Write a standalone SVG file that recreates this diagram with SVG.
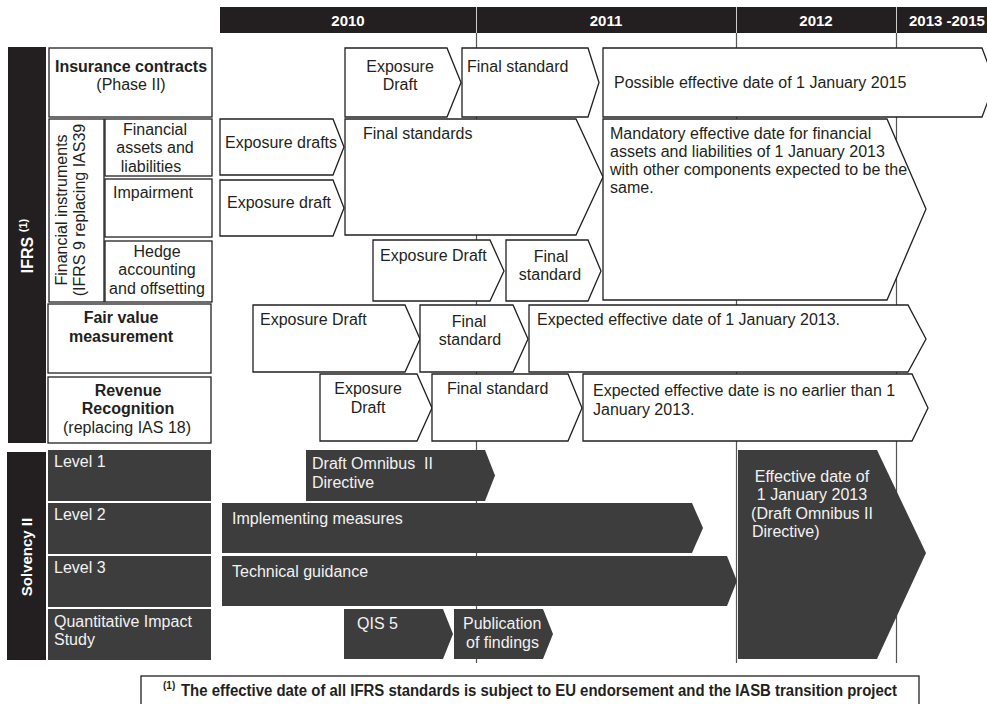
<svg xmlns="http://www.w3.org/2000/svg" width="987" height="704" viewBox="0 0 987 704">
<style>
.w{fill:#fff;stroke:#231f20;stroke-width:1.3}
.d{fill:#3d3d3d}
.k{fill:#231f20}
.g{stroke:#555;stroke-width:1.2;fill:none}
text{font-family:"Liberation Sans",Arial,sans-serif;font-size:16px;fill:#231f20}
.c{text-anchor:middle}
.b{font-weight:bold}
.tw{fill:#f2f2f2}
.hd{font-weight:bold;fill:#fff;font-size:15px}
</style>
<rect width="987" height="704" fill="#fff"/>
<g id="connectors">
<line class="g" x1="476.5" y1="33" x2="476.5" y2="663"/>
<line class="g" x1="736.5" y1="33" x2="736.5" y2="663"/>
<line class="g" x1="896.5" y1="33" x2="896.5" y2="663"/>
</g>
<g id="header">
<rect class="k" x="220" y="7" width="767" height="26"/>
<line x1="476.5" y1="7" x2="476.5" y2="33" stroke="#ccc" stroke-width="1"/>
<line x1="736.5" y1="7" x2="736.5" y2="33" stroke="#ccc" stroke-width="1"/>
<line x1="896.5" y1="7" x2="896.5" y2="33" stroke="#ccc" stroke-width="1"/>
<text class="hd c" x="348" y="26">2010</text>
<text class="hd c" x="606" y="26">2011</text>
<text class="hd c" x="816" y="26">2012</text>
<text class="hd" x="909" y="26">2013 -2015</text>
</g>
<g id="ifrs-label">
<rect class="k" x="8" y="47" width="38" height="396"/>
<text class="hd" transform="translate(33,246) rotate(-90)" text-anchor="middle" style="font-size:16px">IFRS <tspan style="font-size:11px" dy="-6">(1)</tspan></text>
</g>
<g id="solvency-label">
<rect class="k" x="7" y="452" width="39" height="208"/>
<text class="hd c" transform="translate(32,557) rotate(-90)">Solvency II</text>
</g>
<g id="insurance-contracts">
<rect class="w" x="49" y="48" width="163" height="69"/>
<text class="c b" x="131" y="72">Insurance contracts</text>
<text class="c" x="131" y="90">(Phase II)</text>
</g>
<g id="financial-instruments">
<rect class="w" x="49" y="119" width="55" height="183"/>
<text class="c" transform="translate(67,210) rotate(-90)">Financial instruments</text>
<text class="c" transform="translate(85,210) rotate(-90)">(IFRS 9 replacing IAS39</text>
</g>
<g id="financial-assets">
<rect class="w" x="105" y="119" width="107" height="57"/>
<text class="c" x="155" y="135">Financial</text>
<text class="c" x="155" y="153">assets and</text>
<text class="c" x="151" y="172">liabilities</text>
</g>
<g id="impairment">
<rect class="w" x="105" y="179" width="107" height="58"/>
<text x="113" y="198">Impairment</text>
</g>
<g id="hedge">
<rect class="w" x="105" y="241" width="107" height="61"/>
<text class="c" x="157" y="257">Hedge</text>
<text class="c" x="157" y="275">accounting</text>
<text class="c" x="157" y="294">and offsetting</text>
</g>
<g id="fair-value">
<rect class="w" x="48" y="304" width="163" height="69"/>
<text class="c b" x="121" y="323">Fair value</text>
<text class="c b" x="121" y="342">measurement</text>
</g>
<g id="revenue">
<rect class="w" x="48" y="377" width="163" height="66"/>
<text class="c b" x="128" y="396">Revenue</text>
<text class="c b" x="128" y="414">Recognition</text>
<text class="c" x="127" y="433">(replacing IAS 18)</text>
</g>
<g id="level1">
<rect class="d" x="48" y="450" width="163" height="51"/>
<text class="tw" x="54" y="467">Level 1</text>
</g>
<g id="level2">
<rect class="d" x="48" y="503" width="163" height="51"/>
<text class="tw" x="54" y="520">Level 2</text>
</g>
<g id="level3">
<rect class="d" x="48" y="556" width="163" height="51"/>
<text class="tw" x="54" y="573">Level 3</text>
</g>
<g id="qis">
<rect class="d" x="48" y="609" width="163" height="51"/>
<text class="tw" x="54" y="627">Quantitative Impact</text>
<text class="tw" x="54" y="645">Study</text>
</g>
<g id="ins-ed">
<path class="w" d="M345,48H447L461,82.5L447,117H345Z"/>
<text class="c" x="400" y="72">Exposure</text>
<text class="c" x="400" y="90">Draft</text>
</g>
<g id="ins-fs">
<path class="w" d="M462,48H588L599,82.5L588,117H462Z"/>
<text x="467" y="72">Final standard</text>
</g>
<g id="ins-eff">
<path class="w" d="M603,48H982L995,82.5L982,117H603Z"/>
<text x="614" y="88">Possible effective date of 1 January 2015</text>
</g>
<g id="fa-ed">
<path class="w" d="M220,119H333L344,147L333,175H220Z"/>
<text x="225" y="148">Exposure drafts</text>
</g>
<g id="imp-ed">
<path class="w" d="M220,180H333L344,208L333,236H220Z"/>
<text x="227" y="208">Exposure draft</text>
</g>
<g id="fi-fs">
<path class="w" d="M345,119H576L603,177L576,235H345Z"/>
<text x="363" y="139">Final standards</text>
</g>
<g id="fi-eff">
<path class="w" d="M603,119H887L926,209L887,300H603Z"/>
<text x="610" y="139">Mandatory effective date for financial</text>
<text x="610" y="157">assets and liabilities of 1 January 2013</text>
<text x="610" y="175">with other components expected to be the</text>
<text x="610" y="193">same.</text>
</g>
<g id="hedge-ed">
<path class="w" d="M373,240H490L504,271L490,301H373Z"/>
<text x="380" y="261">Exposure Draft</text>
</g>
<g id="hedge-fs">
<path class="w" d="M506,240H588L601,271L588,301H506Z"/>
<text class="c" x="551" y="262">Final</text>
<text class="c" x="550" y="280">standard</text>
</g>
<g id="fv-ed">
<path class="w" d="M253,305H405L420,339L405,372H253Z"/>
<text x="260" y="325">Exposure Draft</text>
</g>
<g id="fv-fs">
<path class="w" d="M420,305H513L528,339L513,372H420Z"/>
<text class="c" x="469" y="327">Final</text>
<text class="c" x="470" y="345">standard</text>
</g>
<g id="fv-eff">
<path class="w" d="M529,305H908L926,339L908,372H529Z"/>
<text x="537" y="325">Expected effective date of 1 January 2013.</text>
</g>
<g id="rev-ed">
<path class="w" d="M320,374H417L432,408L417,441H320Z"/>
<text class="c" x="368" y="394">Exposure</text>
<text class="c" x="368" y="413">Draft</text>
</g>
<g id="rev-fs">
<path class="w" d="M432,374H568L582,408L568,441H432Z"/>
<text x="447" y="394">Final standard</text>
</g>
<g id="rev-eff">
<path class="w" d="M583,374H912L928,408L912,441H583Z"/>
<text x="593" y="396">Expected effective date is no earlier than 1</text>
<text x="593" y="415">January 2013.</text>
</g>
<g id="l1-draft">
<path class="d" d="M306,450H485L495,475.5L485,501H306Z"/>
<text class="tw" x="312" y="469" xml:space="preserve">Draft Omnibus  II</text>
<text class="tw" x="312" y="488">Directive</text>
</g>
<g id="l2-impl">
<path class="d" d="M222,503H692L703,528L692,553H222Z"/>
<text class="tw" x="232" y="524">Implementing measures</text>
</g>
<g id="l3-tech">
<path class="d" d="M222,556H727L737,581L727,606H222Z"/>
<text class="tw" x="232" y="577">Technical guidance</text>
</g>
<g id="qis5">
<path class="d" d="M344,609H443L453,634L443,659H344Z"/>
<text class="tw" x="357" y="629">QIS 5</text>
</g>
<g id="publication">
<path class="d" d="M454,609H543L553,634L543,659H454Z"/>
<text class="tw" x="463" y="629">Publication</text>
<text class="tw" x="466" y="648">of findings</text>
</g>
<g id="sol-eff">
<path class="d" d="M738,450H877L926,553L877,659H738Z"/>
<text class="tw c" x="812" y="482">Effective date of</text>
<text class="tw c" x="812" y="500">1 January 2013</text>
<text class="tw c" x="812" y="519">(Draft Omnibus II</text>
<text class="tw" x="752" y="537">Directive)</text>
</g>
<g id="footnote">
<rect class="w" x="141" y="676" width="778" height="30"/>
<text class="b" x="163" y="689" style="font-size:10px">(1)</text>
<text class="b" x="181" y="696" font-size="16" textLength="716" lengthAdjust="spacingAndGlyphs">The effective date of all IFRS standards is subject to EU endorsement and the IASB transition project</text>
</g>
</svg>
